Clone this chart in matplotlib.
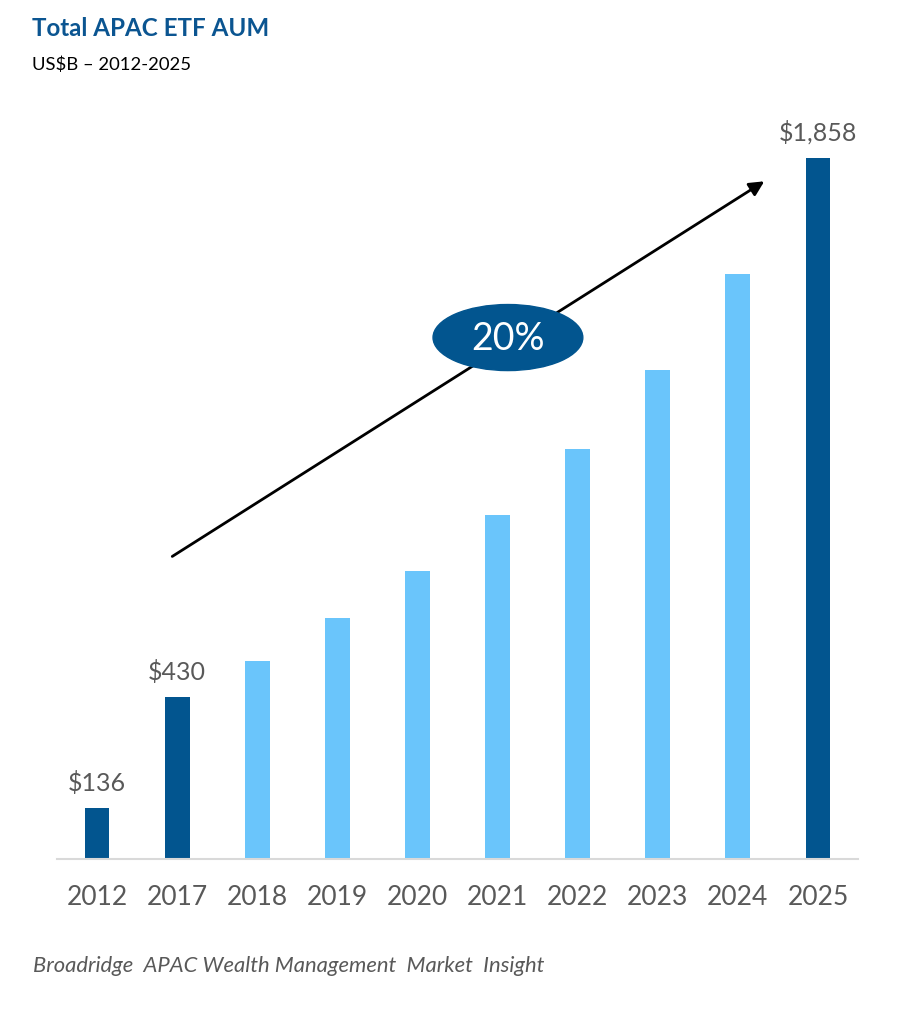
''' Total APAC ETF AUM bar chart '''
import matplotlib.pyplot as plt
from matplotlib.patches import Ellipse

plt.rcParams['font.family'] = ['Lato', 'DejaVu Sans']

years = ['2012', '2017', '2018', '2019', '2020', '2021', '2022', '2023', '2024', '2025']
aum = [136, 430, 525, 639, 763, 912, 1087, 1296, 1551, 1858]
highlight = [True, True, False, False, False, False, False, False, False, True]
labels = {0: '$136', 1: '$430', 9: '$1,858'}

dark_blue = '#02558f'
light_blue = '#6ac5fb'
grey = '#595959'

fig = plt.figure(figsize=(9, 10.24), dpi=100)
ax = fig.add_axes([0.0633, 0.1611, 0.89, 0.737])

colors = [dark_blue if h else light_blue for h in highlight]
x = range(len(years))
ax.bar(x, aum, width=0.31, color=colors, zorder=2)

for i, txt in labels.items():
    ax.text(i, aum[i] + 35, txt, ha='center', va='bottom', fontsize=18, color=grey)

ax.set_xlim(-0.5, 9.5)
ax.set_ylim(0, 2000)
ax.set_xticks(list(x))
ax.set_xticklabels(years, fontsize=19, color=grey)
ax.tick_params(axis='x', length=0, pad=19)
ax.set_yticks([])
for s in ['top', 'right', 'left']:
    ax.spines[s].set_visible(False)
ax.spines['bottom'].set_color('#d9d9d9')
ax.spines['bottom'].set_linewidth(1.5)

# growth arrow with CAGR bubble
ax.annotate('', xy=(8.36, 1800), xytext=(0.91, 798),
            arrowprops=dict(arrowstyle='-|>', color='black', lw=2, mutation_scale=22))
ell = Ellipse((5.13, 1382), width=1.87, height=175, color=dark_blue, zorder=3)
ax.add_patch(ell)
ax.text(5.13, 1378, '20%', ha='center', va='center', fontsize=27, color='white', zorder=4)

fig.text(0.0356, 0.983, 'Total APAC ETF AUM', fontsize=17.4, fontweight='bold',
         color='#0b5591', ha='left', va='top')
fig.text(0.0356, 0.945, 'US$B \u2013 2012-2025', fontsize=13.3, color='black', ha='left', va='top')
fig.text(0.0367, 0.0566, 'Broadridge  APAC Wealth Management  Market  Insight',
         fontsize=15.8, style='italic', color=grey, ha='left', va='center')

fig.savefig('out.png', dpi=100)
